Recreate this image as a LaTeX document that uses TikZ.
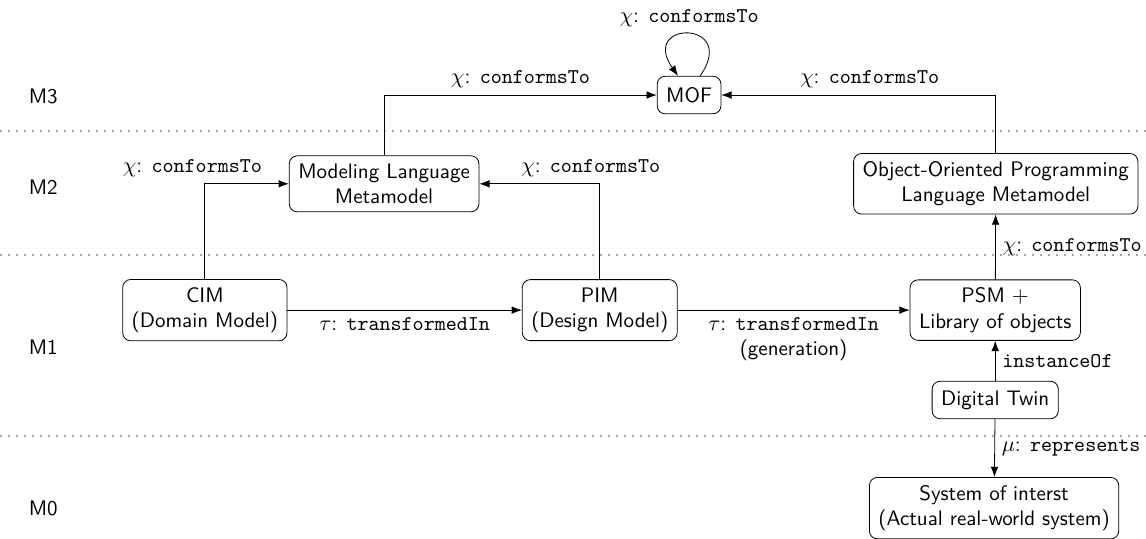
\documentclass[tikz,border=0pt]{standalone}
\usepackage{tikz}
\usetikzlibrary{arrows.meta}

\begin{document}
\begin{tikzpicture}[%
    font=\fontsize{10.5pt}{12.6pt}\selectfont\sffamily,
    modelnode/.style={
        draw,
        rectangle,
        rounded corners=4pt,
        align=center,
        inner xsep=4.5pt,
        inner ysep=4pt,
        minimum height=0.66cm,
        },
    levelline/.style={
        gray!70,
        line width=0.8pt,
        dash pattern=on 0.8pt off 3.2pt,
        },
    levellabel/.style={
        anchor=center,
        },
    relation/.style={
        -{Latex[length=1.8mm]},
        },
]
\useasboundingbox (0,0) rectangle (20.14,-9.455);

\foreach \y in {-2.30,-4.48,-7.66}{
    \draw[levelline] (0,\y) -- (20.14,\y);
}

\node[levellabel] (m3) at (0.76,-1.70) {M3};
\node[levellabel] (m2) at (0.76,-3.29) {M2};
\node[levellabel] (m1) at (0.76,-6.10) {M1};
\node[levellabel] (m0) at (0.76,-8.93) {M0};

\node[modelnode] (mof)   at (12.11,-1.67) {MOF};
\node[modelnode] (mlm)   at (6.75,-3.23)  {Modeling Language\\Metamodel};
\node[modelnode] (ooplm) at (17.50,-3.23) {Object-Oriented Programming\\Language Metamodel};
\node[modelnode] (cim)   at (3.60,-5.45)  {CIM\\(Domain Model)};
\node[modelnode] (pim)   at (10.54,-5.45) {PIM\\(Design Model)};
\node[modelnode] (psm)   at (17.49,-5.45) {PSM $+$\\Library of objects};
\node[modelnode] (twin)  at (17.49,-7.03) {Digital Twin};
\node[modelnode] (soi)   at (17.47,-8.93) {System of interst\\(Actual real-world system)};

\draw[relation] (mof.60) .. controls +(55:1.2) and +(125:1.2) .. node[above] {$\chi$: \texttt{conformsTo}} (mof.120);
\draw[relation] (mlm.north) |- node[above, pos=0.75] {$\chi$: \texttt{conformsTo}} (mof.west);
\draw[relation] (ooplm.north) |- node[above, pos=0.73] {$\chi$: \texttt{conformsTo}} (mof.east);
\draw[relation] (cim.north) |- node[above, pos=0.5, xshift=-0.22cm] {$\chi$: \texttt{conformsTo}} (mlm.west);
\draw[relation] (pim.north) |- node[above, pos=0.5, xshift=-0.16cm] {$\chi$: \texttt{conformsTo}} (mlm.east);
\draw[relation] (cim) -- node[below] {$\tau$: \texttt{transformedIn}} (pim);
\draw[relation] (pim) -- node[below, align=center] {$\tau$: \texttt{transformedIn}\\(generation)} (psm);
\draw[relation] (psm) -- node[right] {$\chi$: \texttt{conformsTo}} (ooplm);
\draw[relation] (twin) -- node[right] {\texttt{instanceOf}} (psm);
\draw[relation] (twin) -- node[right] {$\mu$: \texttt{represents}} (soi);

\end{tikzpicture}
\end{document}
